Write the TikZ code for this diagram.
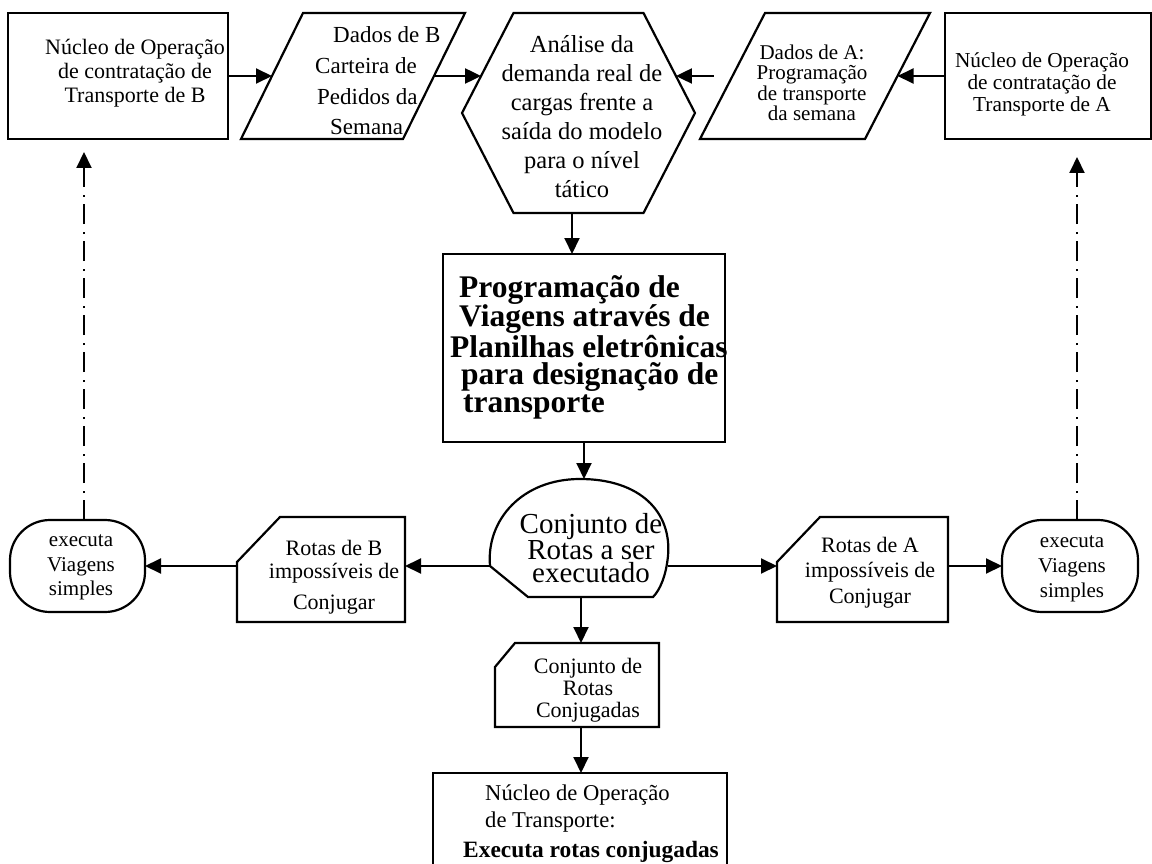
\documentclass[tikz,border=0pt]{standalone}
\usepackage{fontspec}
\setmainfont{Liberation Serif}
\usetikzlibrary{arrows.meta}
\begin{document}
\begin{tikzpicture}[x=1pt,y=-1pt,
  shapeline/.style={draw=black, line width=2.2pt, line join=miter},
  boxnode/.style={shapeline, rectangle, inner sep=0pt, outer sep=0pt},
  txt/.style={inner sep=0pt, align=center, text=black},
  flow/.style={line width=2pt, -{Triangle[length=16pt,width=15pt]}},
  ddflow/.style={flow, dash pattern=on 20pt off 7pt on 2pt off 8pt}
]
\useasboundingbox (0,0) rectangle (1152,864);
\clip (0,0) rectangle (1152,864);
\fill[white] (0,0) rectangle (1152,864);

% ---------- top row ----------
\node[boxnode, minimum width=220pt, minimum height=126pt] (boxB) at (118,76) {};
\node[txt, font=\fontsize{22}{24}\selectfont] (tBoxB) at (135,73)
  {Núcleo de Operação\\de contratação de\\Transporte de B};

% data B (parallelogram)
\draw[shapeline] (303,13) -- (465,13) -- (403,139) -- (241,139) -- cycle;
\coordinate (pBin) at (272,76);
\coordinate (pBout) at (434,76);
\node[txt, align=left, anchor=west, font=\fontsize{23}{30.7}\selectfont] (tDataB) at (315,81)
  {\hspace*{18pt}Dados de B\\Carteira de\\\hspace*{2pt}Pedidos da\\\hspace*{15pt}Semana};

% analysis (hexagon)
\draw[shapeline] (513.5,13) -- (643.5,13) -- (695,113) -- (643.5,213) -- (513.5,213) -- (462,113) -- cycle;
\coordinate (hxL) at (481.1,76);
\coordinate (hxR) at (675.9,76);
\coordinate (hxB) at (572,213);
\node[txt, font=\fontsize{24.5}{29}\selectfont] (tHex) at (582,117)
  {Análise da\\demanda real de\\cargas frente a\\saída do modelo\\para o nível\\tático};

% data A (parallelogram)
\draw[shapeline] (765,13) -- (930,13) -- (865,139) -- (700,139) -- cycle;
\coordinate (pAin) at (732.5,76);
\coordinate (pAout) at (897.5,76);
\node[txt, font=\fontsize{21}{20.5}\selectfont] (tDataA) at (812,83)
  {Dados de A:\\Programação\\de transporte\\da semana};

\node[boxnode, minimum width=206pt, minimum height=126pt] (boxA) at (1048,76) {};
\node[txt, font=\fontsize{21.3}{22}\selectfont] (tBoxA) at (1042,84)
  {Núcleo de Operação\\de contratação de\\Transporte de A};

% ---------- spreadsheet step ----------
\node[boxnode, minimum width=282pt, minimum height=188pt] (midbox) at (584,348) {};
\node[txt, align=left, anchor=west, font=\fontsize{31.5}{27.5}\selectfont\bfseries] (tMid) at (450,347)
  {\hspace*{9pt}Programação de\\\hspace*{9pt}Viagens através de\\Planilhas eletrônicas\\\hspace*{11pt}para designação de\\\hspace*{13pt}transporte};

% ---------- route set (display shape) ----------
\draw[shapeline] (528,597) -- (490,566) .. controls (486,520) and (522,479) .. (580,479)
  .. controls (640,479) and (672,512) .. (668,556) .. controls (666,576) and (660,590) .. (653,597) -- cycle;
\coordinate (cjT) at (584,479);
\coordinate (cjL) at (490,566);
\coordinate (cjR) at (668,566);
\coordinate (cjB) at (581,597);
\node[txt, font=\fontsize{29}{23.5}\selectfont] (tConj) at (591,548)
  {Conjunto de\\Rotas a ser\\executado};

% ---------- side cards ----------
\draw[shapeline] (280,517) -- (405,517) -- (405,622) -- (237,622) -- (237,562) -- cycle;
\coordinate (cBR) at (405,566);
\coordinate (cBL) at (237,566);
\node[txt, font=\fontsize{22}{23}\selectfont] (tCardB) at (334,577)
  {Rotas de B\\impossíveis de\\[8pt]Conjugar};

\draw[shapeline] (820,517) -- (948,517) -- (948,622) -- (777,622) -- (777,562) -- cycle;
\coordinate (cAL) at (777,566);
\coordinate (cAR) at (948,566);
\node[txt, font=\fontsize{22}{25.5}\selectfont] (tCardA) at (870,572.5)
  {Rotas de A\\impossíveis de\\Conjugar};

% ---------- terminals ----------
\node[boxnode, rounded corners=40pt, minimum width=135pt, minimum height=92pt] (ovalB) at (77.5,566) {};
\node[txt, font=\fontsize{21}{24.5}\selectfont] (tOvalB) at (81,567.5)
  {executa\\Viagens\\simples};
\node[boxnode, rounded corners=40pt, minimum width=136pt, minimum height=92pt] (ovalA) at (1070,566) {};
\node[txt, font=\fontsize{21}{25}\selectfont] (tOvalA) at (1072,569)
  {executa\\Viagens\\simples};

% ---------- combined routes ----------
\draw[shapeline] (515,643) -- (659,643) -- (659,727) -- (495,727) -- (495,667) -- cycle;
\coordinate (cgT) at (581,643);
\coordinate (cgB) at (581,727);
\node[txt, font=\fontsize{22}{22}\selectfont] (tCg) at (588,690)
  {Conjunto de\\Rotas\\Conjugadas};

\node[boxnode, minimum width=294pt, minimum height=100pt] (botbox) at (580,823) {};
\node[txt, align=left, anchor=west, font=\fontsize{22.6}{27}\selectfont] (tBot) at (463,823.5)
  {\hspace*{22pt}Núcleo de Operação\\\hspace*{22pt}de Transporte:\\[3pt]{\fontsize{23.4}{27}\selectfont\bfseries Executa rotas conjugadas}};

% ---------- connectors ----------
\draw[flow] (boxB.east) -- (pBin);
\draw[flow] (pBout) -- (hxL);
\draw[flow, shorten <=19pt] (pAin) -- (hxR);
\draw[flow] (boxA.west) -- (pAout);
\draw[flow] (hxB) -- (hxB |- midbox.north);
\draw[flow] (midbox.south) -- (cjT);
\draw[flow] (cjL) -- (cBR);
\draw[flow] (cBL) -- (ovalB.east);
\draw[flow] (cjR) -- (cAL);
\draw[flow] (cAR) -- (ovalA.west);
\draw[flow] (cjB) -- (cgT);
\draw[flow] (cgB) -- (cgB |- botbox.north);

\coordinate (ddB) at (84,520);
\coordinate (ddA) at (1077,520);
\draw[ddflow, shorten >=13pt] (ddB) -- (ddB |- boxB.south);
\draw[ddflow, shorten >=18pt] (ddA) -- (ddA |- boxA.south);
\end{tikzpicture}
\end{document}
